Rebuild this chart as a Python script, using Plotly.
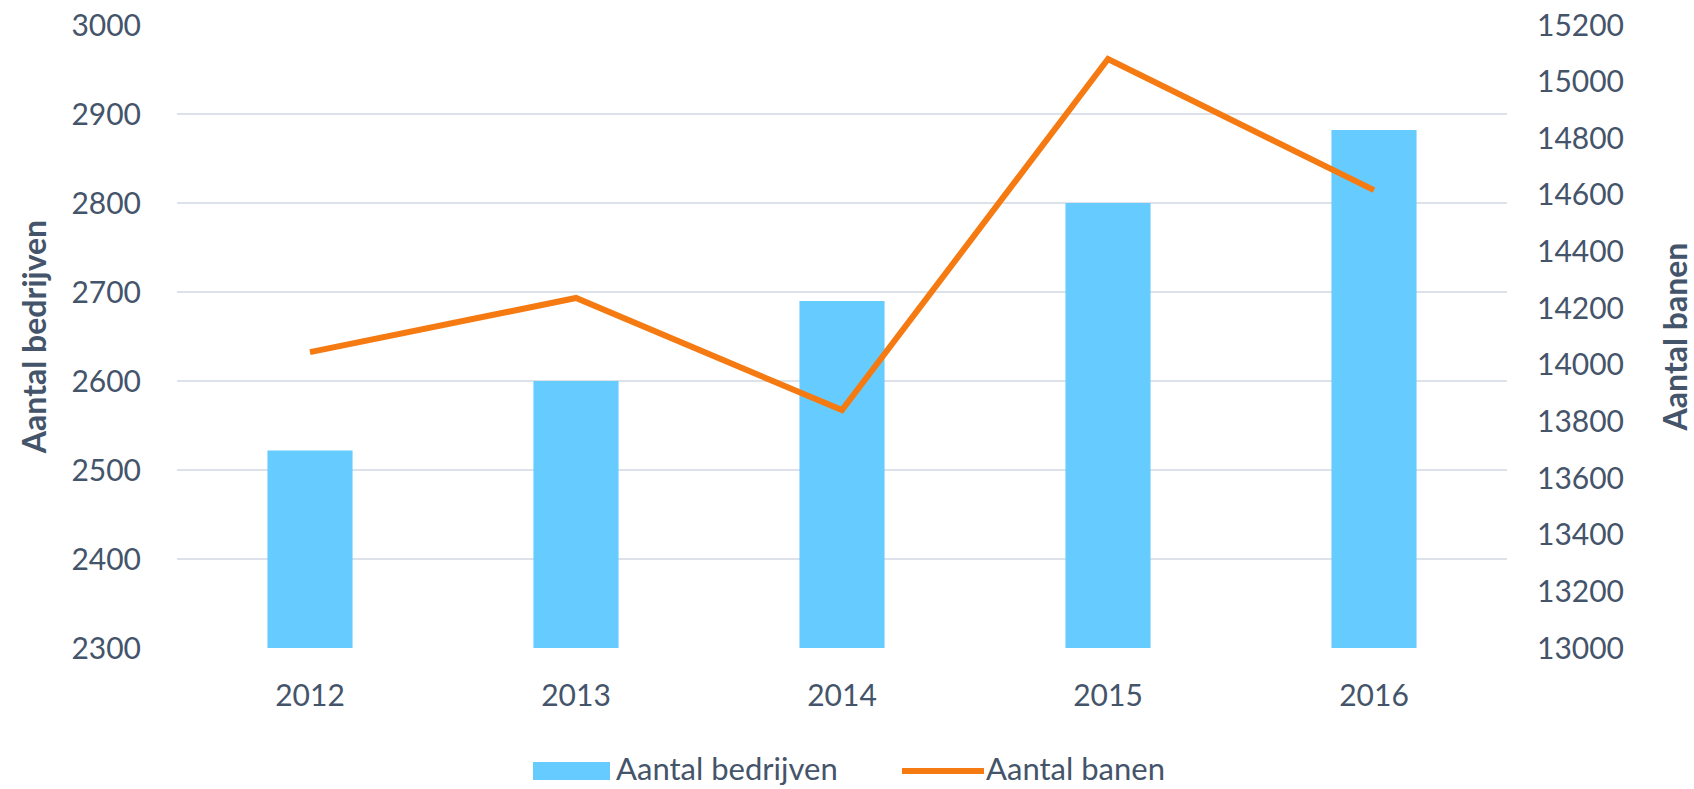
import plotly.graph_objects as go

years = ["2012", "2013", "2014", "2015", "2016"]
bedrijven = [2522, 2600, 2690, 2800, 2882]
banen = [14045, 14236, 13840, 15080, 14617]

left_ticks = [2300, 2400, 2500, 2600, 2700, 2800, 2900, 3000]
right_ticks = [13000, 13200, 13400, 13600, 13800, 14000, 14200, 14400, 14600, 14800, 15000, 15200]
right_labels = [str(v) for v in right_ticks]

TEXT = "#44546A"
GRID = "#DDE2EA"
BLUE = "#66CCFF"
ORANGE = "#F57A12"
FONT = "Lato"

W, H = 1694, 789
L, R, T, B = 177, 187, 25, 141
PW, PH = W - L - R, H - T - B


def px_x(x):
    return (x - L) / PW


def px_y(y):
    return (H - B - y) / PH


fig = go.Figure()
fig.add_trace(go.Bar(
    x=years, y=bedrijven, name="Aantal bedrijven",
    marker=dict(color=BLUE, line=dict(width=0)),
    yaxis="y", showlegend=False,
))
fig.add_trace(go.Scatter(
    x=years, y=banen, name="Aantal banen", mode="lines",
    line=dict(color=ORANGE, width=6),
    yaxis="y2", showlegend=False,
))

# legend (drawn as swatches + text)
shapes = [
    dict(type="rect", xref="paper", yref="paper",
         x0=px_x(533), x1=px_x(610), y0=px_y(780), y1=px_y(762),
         fillcolor=BLUE, line=dict(width=0)),
    dict(type="line", xref="paper", yref="paper",
         x0=px_x(902), x1=px_x(984), y0=px_y(771), y1=px_y(771),
         line=dict(color=ORANGE, width=6)),
]
annotations = [
    dict(text="Aantal bedrijven", xref="paper", yref="paper",
         x=px_x(615), y=px_y(768), xanchor="left", yanchor="middle",
         showarrow=False, borderpad=0, font=dict(size=31, color=TEXT)),
    dict(text="Aantal banen", xref="paper", yref="paper",
         x=px_x(985), y=px_y(768), xanchor="left", yanchor="middle",
         showarrow=False, borderpad=0, font=dict(size=31, color=TEXT)),
]

fig.update_layout(
    width=W, height=H,
    margin=dict(l=L, r=R, t=T, b=B, autoexpand=False),
    paper_bgcolor="white", plot_bgcolor="white",
    font=dict(family=FONT, color=TEXT, size=30),
    bargap=0.68,
    showlegend=False,
    shapes=shapes,
    annotations=annotations,
    xaxis=dict(
        showgrid=False, zeroline=False, showline=False,
        ticks="", ticklabelstandoff=27,
        tickfont=dict(size=30, color=TEXT),
    ),
    yaxis=dict(
        range=[2300, 3000], tickvals=left_ticks,
        showgrid=True, gridcolor=GRID, gridwidth=2,
        zeroline=False, showline=False, ticks="",
        ticklabelstandoff=35, ticklabeloverflow="allow",
        tickfont=dict(size=30, color=TEXT),
        title=dict(text="<b>Aantal bedrijven</b>", font=dict(size=32, color=TEXT), standoff=15),
        automargin=False,
    ),
    yaxis2=dict(
        range=[13000, 15200], tickvals=right_ticks, ticktext=right_labels,
        overlaying="y", side="right",
        showgrid=False, zeroline=False, showline=False, ticks="",
        ticklabelstandoff=29, ticklabeloverflow="allow",
        tickfont=dict(size=30, color=TEXT),
        title=dict(text="<b>Aantal banen</b>", font=dict(size=32, color=TEXT), standoff=42),
        automargin=False,
    ),
)

fig.write_html(
    "out.html",
    config={"displayModeBar": False},
    post_script="document.body.style.margin='0';document.body.style.overflow='hidden';",
)
